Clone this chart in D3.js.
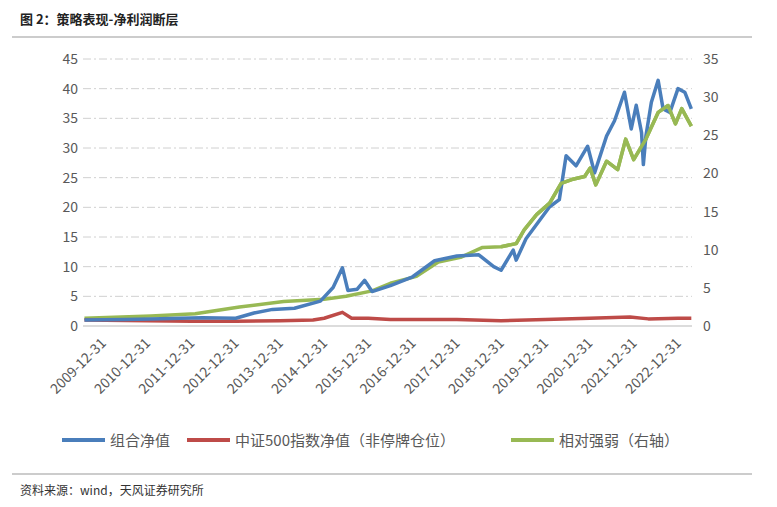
<!DOCTYPE html>
<html><head><meta charset="utf-8">
<script src="https://cdn.jsdelivr.net/npm/d3@7"></script>
<style>body{margin:0;background:#fff;font-family:"Noto Sans CJK SC","Noto Sans",sans-serif;}</style>
</head><body><div id="chart"></div>
<script>
// 组合净值 (左轴)
const blue = [["2009-07-31",1.0],["2010-06-30",1.1],["2011-01-31",1.2],["2011-09-30",1.3],["2012-03-31",1.4],["2012-12-31",1.3],["2013-05-31",2.2],["2013-10-31",2.8],["2014-04-30",3.0],["2014-11-30",4.2],["2015-03-15",6.5],["2015-05-31",9.8],["2015-07-15",6.0],["2015-09-30",6.2],["2015-11-30",7.7],["2016-01-31",5.8],["2016-06-30",6.8],["2016-12-31",8.3],["2017-06-30",11.0],["2017-12-31",11.8],["2018-06-30",12.0],["2018-10-31",10.0],["2018-12-31",9.4],["2019-04-10",12.8],["2019-05-05",11.1],["2019-07-25",14.7],["2020-02-05",20.1],["2020-04-25",21.3],["2020-06-20",28.7],["2020-09-10",27.0],["2020-12-15",30.3],["2021-02-10",25.8],["2021-05-20",32.0],["2021-07-25",34.6],["2021-10-15",39.4],["2021-12-10",33.2],["2022-01-20",37.2],["2022-03-05",32.6],["2022-03-20",27.2],["2022-04-10",32.0],["2022-05-25",37.7],["2022-07-20",41.4],["2022-08-30",36.6],["2022-10-25",36.0],["2022-12-31",40.0],["2023-02-25",39.4],["2023-04-20",36.6]];
// 中证500指数净值（非停牌仓位）(左轴)
const red = [["2009-07-31",1.0],["2010-12-31",0.9],["2011-12-31",0.8],["2012-12-31",0.8],["2013-12-31",0.9],["2014-09-30",1.0],["2014-12-31",1.3],["2015-05-31",2.3],["2015-08-15",1.3],["2015-12-31",1.3],["2016-06-30",1.1],["2017-12-31",1.1],["2018-12-31",0.9],["2019-12-31",1.1],["2020-12-31",1.3],["2021-11-30",1.5],["2022-04-30",1.2],["2022-12-31",1.3],["2023-04-20",1.3]];
// 相对强弱 (右轴)
const green = [["2009-07-31",1.0],["2011-01-31",1.3],["2012-01-31",1.6],["2013-01-31",2.5],["2014-01-31",3.2],["2014-12-31",3.5],["2015-06-30",3.9],["2016-01-31",4.6],["2016-06-30",5.6],["2017-01-31",6.5],["2017-07-31",8.4],["2018-01-31",9.0],["2018-07-31",10.3],["2018-12-31",10.4],["2019-05-05",10.8],["2019-07-10",12.6],["2019-10-20",14.6],["2020-02-05",16.1],["2020-05-10",18.7],["2020-08-05",19.2],["2020-11-20",19.6],["2021-01-05",20.7],["2021-02-20",18.5],["2021-05-20",21.6],["2021-08-20",20.5],["2021-10-25",24.5],["2021-12-30",21.8],["2022-04-10",24.5],["2022-07-20",28.0],["2022-10-10",28.9],["2022-12-10",26.5],["2023-01-31",28.5],["2023-04-20",26.2]];
const xTicks = ["2009-12-31","2010-12-31","2011-12-31","2012-12-31","2013-12-31","2014-12-31","2015-12-31","2016-12-31","2017-12-31","2018-12-31","2019-12-31","2020-12-31","2021-12-31","2022-12-31"];
const leftTicks = [0,5,10,15,20,25,30,35,40,45];
const rightTicks = [0,5,10,15,20,25,30,35];

const W = 777, H = 507;
const parse = d3.timeParse("%Y-%m-%d");
const svg = d3.select("#chart").append("svg").attr("width", W).attr("height", H);

svg.append("text").attr("x", 20).attr("y", 24).attr("font-size", 13).attr("font-weight", "bold").attr("fill", "#222").text("图 2：策略表现-净利润断层");
svg.append("line").attr("x1", 12).attr("x2", 752).attr("y1", 37).attr("y2", 37).attr("stroke", "#999").attr("stroke-width", 1);
svg.append("line").attr("x1", 12).attr("x2", 752).attr("y1", 474).attr("y2", 474).attr("stroke", "#999").attr("stroke-width", 1);
svg.append("text").attr("x", 20).attr("y", 495).attr("font-size", 12).attr("fill", "#333").text("资料来源：wind，天风证券研究所");

const x = d3.scaleTime().domain([parse("2009-12-31"), parse("2022-12-31")]).range([103, 678]);
const yL = d3.scaleLinear().domain([0, 45]).range([326, 59]);
const yR = d3.scaleLinear().domain([0, 35]).range([326, 59]);

// grid
svg.append("g").selectAll("line").data(leftTicks.slice(1)).enter().append("line")
  .attr("x1", 83).attr("x2", 692).attr("y1", d => yL(d)).attr("y2", d => yL(d))
  .attr("stroke", "#d0d0d0").attr("stroke-dasharray", "8,3,2,3");
svg.append("line").attr("x1", 83).attr("x2", 692).attr("y1", 326).attr("y2", 326).attr("stroke", "#d0d0d0").attr("stroke-width", 1.5);

svg.append("g").selectAll("text").data(leftTicks).enter().append("text")
  .attr("x", 78).attr("y", d => yL(d) + 5).attr("text-anchor", "end")
  .attr("font-size", 14).attr("fill", "#595959").text(d => d);
svg.append("g").selectAll("text").data(rightTicks).enter().append("text")
  .attr("x", 703).attr("y", d => yR(d) + 5)
  .attr("font-size", 14).attr("fill", "#595959").text(d => d);
svg.append("g").selectAll("text").data(xTicks).enter().append("text")
  .attr("transform", d => `translate(${x(parse(d)) + 4},${344}) rotate(-45)`)
  .attr("text-anchor", "end").attr("font-size", 14).attr("fill", "#595959").text(d => d);

function draw(data, y, color) {
  svg.append("path").datum(data)
    .attr("d", d3.line().x(d => x(parse(d[0]))).y(d => y(d[1])))
    .attr("fill", "none").attr("stroke", color).attr("stroke-width", 3.5).attr("stroke-linejoin", "round");
}
draw(green, yR, "#98b954");
draw(red, yL, "#be4b48");
draw(blue, yL, "#4a7ebb");
draw(green.filter(d => d[0] >= "2018-12-31"), yR, "#98b954");

const legend = [["组合净值", "#4a7ebb", 62], ["中证500指数净值（非停牌仓位）", "#be4b48", 187], ["相对强弱（右轴）", "#98b954", 511]];
legend.forEach(l => {
  svg.append("line").attr("x1", l[2]).attr("x2", l[2] + 43).attr("y1", 440).attr("y2", 440).attr("stroke", l[1]).attr("stroke-width", 4);
  svg.append("text").attr("x", l[2] + 48).attr("y", 446).attr("font-size", 15).attr("fill", "#595959").text(l[0]);
});
</script></body></html>
